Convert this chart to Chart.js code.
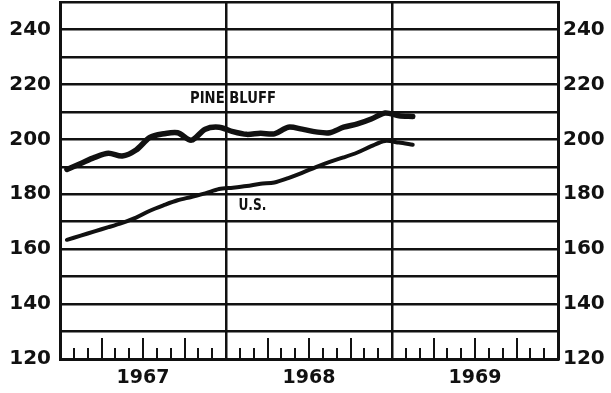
<!DOCTYPE html>
<html>
<head>
<meta charset="utf-8">
<script src="https://cdn.jsdelivr.net/npm/chart.js@4.4.1/dist/chart.umd.min.js"></script>
<style>
  html, body { margin: 0; padding: 0; background: #fff; }
  #wrap { width: 611px; height: 393px; }
</style>
</head>
<body>
<div id="wrap"><canvas id="priceChart" width="611" height="393"></canvas></div>
<script>
// monthly index, Jan 1967 - Feb 1969
const years = ['1967', '1968', '1969'];
const pineBluff = [189, 191.2, 193.4, 194.9, 193.9, 196.1, 200.7, 202, 202.4, 199.7, 203.7, 204.4,
  202.8, 201.8, 202.2, 202, 204.4, 203.7, 202.7, 202.4, 204.4, 205.6, 207.4, 209.6,
  208.6, 208.3];
const unitedStates = [163.4, 164.9, 166.5, 168, 169.6, 171.5, 174, 176, 177.8, 179, 180.3, 181.9,
  182.4, 183, 183.8, 184.3, 185.9, 187.8, 189.9, 191.8, 193.4, 195.2, 197.5, 199.4,
  198.8, 198];
const yTicks = [120, 140, 160, 180, 200, 220, 240];
const seriesNames = ['PINE BLUFF', 'U.S.'];

const INK = '#111';
const FONT = 'DejaVu Sans';

// one point per month, centred inside its month
const toPoints = arr => arr.map((v, i) => ({ x: i + 0.5, y: v }));

// drop the extra room Chart.js keeps for half-labels at the ends
const tightFit = size => s => {
  if (s.isHorizontal()) s.height = size; else s.width = size;
  s.paddingTop = 0;
  s.paddingBottom = 0;
  s.paddingLeft = 0;
  s.paddingRight = 0;
};

// short monthly ticks standing on the bottom edge, longer every quarter
const monthTicks = {
  id: 'monthTicks',
  afterDraw(chart) {
    const { ctx, chartArea } = chart;
    const xs = chart.scales.x;
    ctx.save();
    ctx.strokeStyle = INK;
    ctx.lineWidth = 2;
    for (let m = 1; m < 36; m++) {
      if (m % 12 === 0) continue;
      const px = Math.round(xs.getPixelForValue(m));
      const len = m % 3 === 0 ? 21 : 11;
      ctx.beginPath();
      ctx.moveTo(px, chartArea.bottom);
      ctx.lineTo(px, chartArea.bottom - len);
      ctx.stroke();
    }
    ctx.restore();
  }
};

// series names written next to the lines, squeezed a little
const seriesTags = {
  id: 'seriesTags',
  afterDraw(chart) {
    const { ctx } = chart;
    const xs = chart.scales.x, ys = chart.scales.y;
    const spots = [[9.4, 214.5], [12.9, 175.5]];
    const widths = [86, 28];
    ctx.save();
    ctx.fillStyle = INK;
    ctx.font = 'bold 15px "' + FONT + '"';
    ctx.textAlign = 'left';
    ctx.textBaseline = 'middle';
    seriesNames.forEach((name, i) => {
      ctx.fillText(name, xs.getPixelForValue(spots[i][0]), ys.getPixelForValue(spots[i][1]), widths[i]);
    });
    ctx.restore();
  }
};

const ctx = document.getElementById('priceChart').getContext('2d');
new Chart(ctx, {
  type: 'line',
  data: {
    datasets: [{
      label: seriesNames[0],
      data: toPoints(pineBluff),
      borderColor: INK,
      borderWidth: 5.5,
      tension: 0.3,
      pointRadius: 0,
      borderCapStyle: 'round'
    }, {
      label: seriesNames[1],
      data: toPoints(unitedStates),
      borderColor: INK,
      borderWidth: 4,
      tension: 0.3,
      pointRadius: 0,
      borderCapStyle: 'round'
    }]
  },
  options: {
    responsive: false,
    animation: false,
    layout: { padding: { top: 2 } },
    plugins: { legend: { display: false }, tooltip: { enabled: false } },
    scales: {
      x: {
        type: 'linear',
        min: 0,
        max: 36,
        afterFit: tightFit(34),
        border: { display: true, color: INK, width: 3 },
        grid: {
          drawTicks: false,
          lineWidth: 2.5,
          color: c => (c.tick && c.tick.value % 12 === 0) ? INK : 'rgba(0,0,0,0)'
        },
        ticks: {
          stepSize: 1,
          autoSkip: false,
          maxRotation: 0,
          padding: 8,
          color: INK,
          font: { family: FONT, weight: 'bold', size: 19 },
          callback: v => (v % 12 === 6) ? years[(v - 6) / 12] : ''
        }
      },
      y: {
        position: 'left',
        min: 120,
        max: 250,
        afterFit: tightFit(60),
        border: { display: true, color: INK, width: 3 },
        grid: { drawTicks: false, color: INK, lineWidth: 2.5 },
        ticks: {
          stepSize: 10,
          autoSkip: false,
          padding: 9,
          color: INK,
          font: { family: FONT, weight: 'bold', size: 20 },
          callback: v => yTicks.includes(v) ? String(v) : ''
        }
      },
      y2: {
        position: 'right',
        min: 120,
        max: 250,
        afterFit: tightFit(53),
        border: { display: true, color: INK, width: 3 },
        grid: { drawTicks: false, drawOnChartArea: false },
        ticks: {
          stepSize: 10,
          autoSkip: false,
          padding: 5,
          color: INK,
          font: { family: FONT, weight: 'bold', size: 20 },
          callback: v => yTicks.includes(v) ? String(v) : ''
        }
      }
    }
  },
  plugins: [monthTicks, seriesTags]
});
</script>
</body>
</html>
